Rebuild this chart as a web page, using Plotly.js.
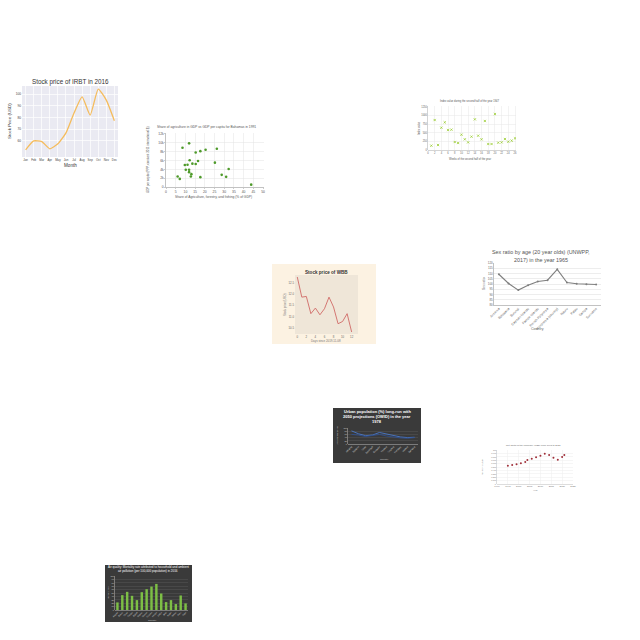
<!DOCTYPE html>
<html><head><meta charset="utf-8">
<script src="https://cdn.plot.ly/plotly-3.0.1.min.js"></script>
<style>html,body{margin:0;padding:0;background:#fff}#c{width:640px;height:640px}</style>
</head><body><div id="c"></div>
<script>
// ---- Panel 1: IRBT line ----
const irbtMonths = ["Jan","Feb","Mar","Apr","May","Jun","Jul","Aug","Sep","Oct","Nov","Dec"];
const irbtPrice = [52.1,59.8,59.2,53.0,57.3,66.7,83.8,97.7,82.0,104.3,94.9,77.2];
// ---- Panel 2: Bahamas scatter ----
const agriShare = [8.5,11.9,17.7,20.4,15.3,26.2,12.2,16.5,13.6,15.3,9.7,11.1,25.2,10.2,11.9,11.9,13.1,12.8,17.7,6.0,7.1,28.7,31.0,32.3,43.9];
const gdpPerCap = [8870,9860,8100,8400,7800,8640,6040,5890,5270,5200,4970,5040,5500,3900,3900,3360,2900,2370,2220,2370,1830,2750,2290,4050,535];
// ---- Panel 3: weekly index ----
const weeks = [1,2,3,4,5,6,7,8,9,10,11,12,13,14,15,16,17,18,19,20,21,22,23,24,25,26];
const indexVals = [125,865,144,644,798,577,587,231,202,442,308,221,385,885,413,308,837,173,173,1038,212,221,317,240,269,337];
// ---- Panel 4: WBB ----
const wbbDays = [0,1,2,3,4,5,6,7,8,9,10,11,12];
const wbbPrice = [12.77,11.87,11.90,11.13,11.38,11.08,11.35,11.87,11.43,10.68,10.78,11.13,10.31];
// ---- Panel 5: sex ratio ----
const sexCountries = ["Armenia","Botswana","Burundi","Cayman Islands","Faeroe Islands","French Polynesia","Micronesia (country)","Nauru","Palau","Samoa","Suriname"];
const sexRatio = [109.3,100.5,94.2,98.9,102.4,103.6,114.0,101.4,100.2,99.8,99.5];
// ---- Panel 6: urban population ----
const urbCountries = ["Albania","Belarus","Chile","Denmark","Ecuador","Finland","Guyana","Hungary","Ireland","Jamaica"];
const urbLong = [82,64,52,56,72,62,50,44,40,42];
const urbProj = [60,56,47,52,60,50,43,38,36,40];
// ---- Panel 7: yearly scatter ----
const years7 = [1995,1997,1999,2001,2003,2004,2006,2008,2010,2012,2014,2016,2018,2020,2021];
const worth7 = [539000,559000,578000,608000,647000,706000,745000,784000,833000,892000,853000,775000,716000,794000,853000];
// ---- Panel 8: bars ----
const barCountries = ["Angola","Benin","Chad","Congo","Egypt","Gabon","Ghana","Guinea","Kenya","Libya","Mali","Niger","Oman","Peru","Togo"];
const barVals = [22.3,43.7,53.4,41.7,29.1,52.4,61.2,68.9,76.7,48.5,23.3,29.1,17.5,42.7,19.4];

const X = p => p/640, Y = p => 1 - p/640;
const F = "Liberation Sans, Arial, sans-serif";

const traces = [
  {type:"scatter",mode:"lines",x:irbtMonths,y:irbtPrice,xaxis:"x",yaxis:"y",line:{color:"#f5bc5c",width:1.3,shape:"spline",smoothing:0.5},hoverinfo:"none"},
  {type:"scatter",mode:"markers",x:agriShare,y:gdpPerCap,xaxis:"x2",yaxis:"y2",marker:{color:"#4e9a2a",size:2.6},hoverinfo:"none"},
  {type:"scatter",mode:"markers",x:weeks,y:indexVals,xaxis:"x3",yaxis:"y3",marker:{color:"#9acd32",size:2.2,symbol:"x-thin",line:{color:"#9acd32",width:0.8}},hoverinfo:"none"},
  {type:"scatter",mode:"lines",x:wbbDays,y:wbbPrice,xaxis:"x4",yaxis:"y4",line:{color:"#d06a66",width:0.9},hoverinfo:"none"},
  {type:"scatter",mode:"lines+markers",x:sexCountries,y:sexRatio,xaxis:"x5",yaxis:"y5",line:{color:"#7f7f7f",width:1.1},marker:{color:"#7f7f7f",size:2},hoverinfo:"none"},
  {type:"scatter",mode:"lines",x:urbCountries,y:urbLong,xaxis:"x6",yaxis:"y6",line:{color:"#4a78c8",width:0.9},hoverinfo:"none"},
  {type:"scatter",mode:"lines",x:urbCountries,y:urbProj,xaxis:"x6",yaxis:"y6",line:{color:"#2f4f8f",width:0.9},hoverinfo:"none"},
  {type:"scatter",mode:"markers",x:years7,y:worth7,xaxis:"x7",yaxis:"y7",marker:{color:"#a0303a",size:2},hoverinfo:"none"},
  {type:"bar",x:barCountries,y:barVals,xaxis:"x8",yaxis:"y8",marker:{color:"#7dbf45"},hoverinfo:"none"}
];

function ax(o){return Object.assign({fixedrange:true,automargin:false,zeroline:false,showline:false,ticks:"",ticklen:1,tickwidth:0.5,tickfont:{family:F,size:3.4,color:"#555"},showgrid:true,gridwidth:0.5},o);}

const layout = {
  width:640,height:640,margin:{l:0,r:0,t:0,b:0},paper_bgcolor:"#ffffff",plot_bgcolor:"rgba(0,0,0,0)",
  showlegend:false,bargap:0.5,
  xaxis: ax({domain:[X(22),X(118)],anchor:"y",type:"category",range:[-0.45,11.45],tickangle:0,gridcolor:"#ffffff",gridwidth:0.7,tickfont:{family:F,size:2.9,color:"#444"}}),
  yaxis: ax({domain:[Y(157),Y(86)],anchor:"x",range:[46,107],tickvals:[60,70,80,90,100],gridcolor:"#ffffff",gridwidth:0.7,tickfont:{family:F,size:3.2,color:"#444"}}),
  xaxis2: ax({domain:[X(166),X(264)],anchor:"y2",range:[0,50.5],dtick:5,tickangle:0,gridcolor:"#e3e3e3",showline:true,linecolor:"#999",linewidth:0.6,ticks:"outside",tickcolor:"#999"}),
  yaxis2: ax({domain:[Y(187),Y(133)],anchor:"x2",range:[0,12200],dtick:2000,gridcolor:"#e3e3e3",showline:true,linecolor:"#999",linewidth:0.6,ticks:"outside",tickcolor:"#999"}),
  xaxis3: ax({domain:[X(428),X(516)],anchor:"y3",range:[0,26.3],dtick:2,tickangle:0,gridcolor:"#e8e8e8",showline:true,linecolor:"#aaa",linewidth:0.5,tickfont:{family:F,size:2.6,color:"#666"}}),
  yaxis3: ax({domain:[Y(150),Y(106)],anchor:"x3",range:[0,1270],dtick:250,gridcolor:"#e8e8e8",showline:true,linecolor:"#aaa",linewidth:0.5,tickfont:{family:F,size:2.6,color:"#666"}}),
  xaxis4: ax({domain:[X(295),X(358)],anchor:"y4",range:[-0.5,13.4],dtick:2,tickangle:0,showgrid:false,tickfont:{family:F,size:2.8,color:"#666"}}),
  yaxis4: ax({domain:[Y(334),Y(275)],anchor:"x4",range:[10.22,12.86],tickvals:[10.5,11,11.5,12,12.5],tickformat:".1f",showgrid:false,tickfont:{family:F,size:2.8,color:"#666"}}),
  xaxis5: ax({domain:[X(494),X(601)],anchor:"y5",type:"category",range:[-0.5,10.5],tickangle:-45,showgrid:false,showline:true,linecolor:"#999",linewidth:0.6,tickfont:{family:F,size:3.3,color:"#666"}}),
  yaxis5: ax({domain:[Y(305),Y(263)],anchor:"x5",range:[80,120],dtick:5,gridcolor:"#dcdcdc",showline:true,linecolor:"#999",linewidth:0.6,tickfont:{family:F,size:3.0,color:"#666"}}),
  xaxis6: ax({domain:[X(348),X(418)],anchor:"y6",type:"category",range:[-0.5,9.5],tickangle:-45,showgrid:false,showline:true,linecolor:"#bbb",linewidth:0.5,tickfont:{family:F,size:2.4,color:"#ccc"}}),
  yaxis6: ax({domain:[Y(444),Y(428)],anchor:"x6",range:[0,100],dtick:20,gridcolor:"#555",showline:true,linecolor:"#bbb",linewidth:0.5,tickfont:{family:F,size:2.2,color:"#ccc"}}),
  xaxis7: ax({domain:[X(497),X(573)],anchor:"y7",range:[1990,2025],dtick:5,tickangle:0,gridcolor:"#eeeeee",showline:true,linecolor:"#bbb",linewidth:0.5,tickfont:{family:F,size:2.4,color:"#777"}}),
  yaxis7: ax({domain:[Y(484),Y(450)],anchor:"x7",range:[0,1000000],dtick:100000,gridcolor:"#eeeeee",showline:true,linecolor:"#bbb",linewidth:0.5,tickfont:{family:F,size:2.2,color:"#777"}}),
  xaxis8: ax({domain:[X(115),X(188)],anchor:"y8",type:"category",tickangle:-45,showgrid:false,showline:true,linecolor:"#bbb",linewidth:0.5,tickfont:{family:F,size:2.2,color:"#ccc"}}),
  yaxis8: ax({domain:[Y(610),Y(576)],anchor:"x8",range:[0,100],dtick:10,gridcolor:"#555",showline:true,linecolor:"#bbb",linewidth:0.5,tickfont:{family:F,size:2.2,color:"#ccc"}}),
  shapes:[
    {type:"rect",xref:"paper",yref:"paper",x0:X(22),x1:X(118),y0:Y(157),y1:Y(86),fillcolor:"#eaeaf2",line:{width:0},layer:"below"},
    {type:"rect",xref:"paper",yref:"paper",x0:X(272),x1:X(376),y0:Y(344),y1:Y(264),fillcolor:"#fcf2e2",line:{width:0},layer:"below"},
    {type:"rect",xref:"paper",yref:"paper",x0:X(295),x1:X(358),y0:Y(334),y1:Y(275),fillcolor:"#efe6d8",line:{width:0},layer:"below"},
    {type:"rect",xref:"paper",yref:"paper",x0:X(333),x1:X(421),y0:Y(463),y1:Y(408),fillcolor:"#3a3a3a",line:{width:0},layer:"below"},
    {type:"rect",xref:"paper",yref:"paper",x0:X(105),x1:X(192),y0:Y(622),y1:Y(565),fillcolor:"#3a3a3a",line:{width:0},layer:"below"}
  ],
  annotations:[]
};

function T(text,x,y,size,color,angle,bold){
  layout.annotations.push({text:bold?"<b>"+text+"</b>":text,xref:"paper",yref:"paper",x:X(x),y:Y(y),xanchor:"center",yanchor:"middle",showarrow:false,textangle:angle||0,font:{family:F,size:size,color:color}});
}
// Panel 1
T("Stock price of IRBT in 2016",70,82,6.3,"#333");
T("Month",70,165,4.6,"#333");
T("Stock Price (USD)",9,121,4.4,"#333",-90);
// Panel 2
T("Share of agriculture in GDP vs GDP per capita for Bahamas in 1991",206,127,3.3,"#555");
T("Share of Agriculture, forestry, and fishing (% of GDP)",213,197,3.3,"#555");
T("GDP per capita (PPP, constant 2011 international $)",148,160,2.9,"#555",-90);
// Panel 3
T("Index value during the second half of the year 1947",470,101,2.6,"#555");
T("Weeks of the second half of the year",470,159,2.6,"#555");
T("Index value",419,128,2.6,"#555",-90);
// Panel 4
T("Stock price of WBB",326,272,4.6,"#333",0,true);
T("Days since 2019-11-08",326,341,2.9,"#777");
T("Stock price (USD)",285,305,2.8,"#777",-90);
// Panel 5
T("Sex ratio by age (20 year olds) (UNWPP,",541,252,5.4,"#555");
T("2017) in the year 1965",541,260,5.4,"#555");
T("Country",537,329,3.6,"#666");
T("Sex ratio",484,284,3.2,"#666",-90);
// Panel 6
T("Urban population (%) long-run with",377,411,4.0,"#ffffff",0,true);
T("2050 projections (OWID) in the year",377,416,4.0,"#ffffff",0,true);
T("1978",377,421,4.0,"#ffffff",0,true);
T("Country",384,459,2.4,"#ccc");
T("Urban population (%)",337,436,2.0,"#ccc",-90);
// Panel 7
T("Net worth of the company (USD) from 1995 to 2021",533,445,2.4,"#666");
T("Year",535,490,2.2,"#777");
T("Net worth (USD)",482,467,2.2,"#777",-90);
// Panel 8
T("Air quality: Mortality rate attributed to household and ambient",148,567,3.0,"#ffffff");
T("air pollution (per 100,000 population) in 2016",148,571,3.0,"#ffffff");
T("Country",152,620,2.4,"#ccc");
T("Mortality rate",108,593,2.2,"#ccc",-90);

Plotly.newPlot("c",traces,layout,{staticPlot:true,displayModeBar:false});
</script></body></html>
